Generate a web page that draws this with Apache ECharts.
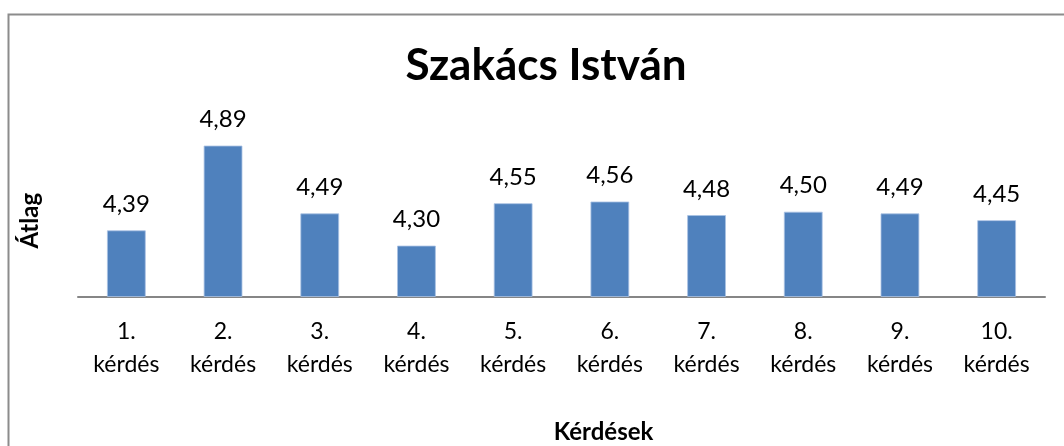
<!DOCTYPE html>
<html>
<head>
<meta charset="utf-8">
<script src="https://cdn.jsdelivr.net/npm/echarts@6/dist/echarts.min.js"></script>
<style>
  html, body { margin: 0; padding: 0; background: #fff; }
  #chart { width: 1064px; height: 446px; }
</style>
</head>
<body>
<div id="chart"></div>
<script>
// Question categories and average scores
const categories = ['1.\nkérdés', '2.\nkérdés', '3.\nkérdés', '4.\nkérdés', '5.\nkérdés',
                    '6.\nkérdés', '7.\nkérdés', '8.\nkérdés', '9.\nkérdés', '10.\nkérdés'];
const averages = [4.39, 4.89, 4.49, 4.30, 4.55, 4.56, 4.48, 4.50, 4.49, 4.45];

const FONT = 'Lato, "Open Sans", sans-serif';

const chart = echarts.init(document.getElementById('chart'), null, { renderer: 'canvas' });

chart.setOption({
  backgroundColor: '#ffffff',
  animation: false,
  title: {
    text: 'Szakács István',
    left: 541,
    top: 39,
    textAlign: 'center',
    textStyle: { fontFamily: FONT, fontWeight: 'bold', fontSize: 44, color: '#000' }
  },
  graphic: [
    {
      type: 'rect',
      shape: { x: 8.5, y: 14.5, width: 1100, height: 500 },
      style: { fill: 'none', stroke: '#8c8c8c', lineWidth: 2 },
      silent: true
    }
  ],
  grid: { left: 78, right: 19, top: 127, bottom: 149.5, containLabel: false },
  xAxis: {
    type: 'category',
    data: categories,
    name: 'Kérdések',
    nameLocation: 'middle',
    nameGap: 124,
    nameTextStyle: { fontFamily: FONT, fontWeight: 'bold', fontSize: 24, color: '#000', padding: [0, 0, 0, 84] },
    axisLine: { lineStyle: { color: '#868686', width: 2 } },
    axisTick: { show: false },
    axisLabel: {
      fontFamily: FONT, fontSize: 23, color: '#000',
      lineHeight: 33, margin: 19, interval: 0
    }
  },
  yAxis: {
    type: 'value',
    min: 4,
    max: 5,
    name: 'Átlag',
    nameLocation: 'middle',
    nameGap: 36,
    nameRotate: 90,
    nameTextStyle: { fontFamily: FONT, fontWeight: 'bold', fontSize: 24, color: '#000', padding: [0, 18, 0, 0] },
    axisLine: { show: false },
    axisTick: { show: false },
    axisLabel: { show: false },
    splitLine: { show: false }
  },
  series: [{
    type: 'bar',
    data: averages,
    barWidth: '40%',
    itemStyle: { color: '#4f81bd', borderColor: '#a9c2e3', borderWidth: 0.8 },
    label: {
      show: true,
      position: 'top',
      distance: 14,
      fontFamily: FONT,
      fontSize: 24,
      color: '#000',
      formatter: p => p.value.toFixed(2).replace('.', ',')
    }
  }]
});
</script>
</body>
</html>
